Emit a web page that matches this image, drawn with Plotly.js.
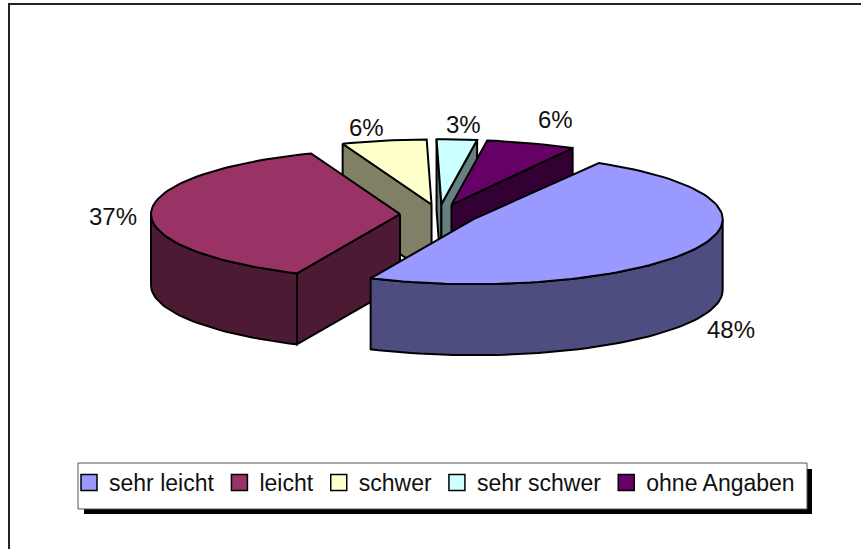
<!DOCTYPE html>
<html>
<head>
<meta charset="utf-8">
<script src="https://cdn.plot.ly/plotly-3.0.1.min.js"></script>
<style>html,body{margin:0;padding:0;background:#fff}#chart{width:861px;height:549px}</style>
</head>
<body>
<div id="chart"></div>
<script>
const categories = ["sehr leicht", "leicht", "schwer", "sehr schwer", "ohne Angaben"];
const shares = [48.4, 37.4, 5.5, 2.6, 5.8];
const topColors = ["#9999FF", "#993366", "#FFFFCC", "#CCFFFF", "#660066"];
const sideColors = ["#4D4D80", "#4D1A33", "#808066", "#668080", "#330033"];
const labelX = [731, 113, 366, 463, 555];
const labelY = [329, 216, 127, 124, 119];

const cx = 439, cy = 214.5, rx = 249, ry = 65, depth = 71, pull = 39, startDeg = -59.8;
const rad = d => d * Math.PI / 180;
const font = "Liberation Sans, Arial, sans-serif";
const traces = [];

function poly(xs, ys, fill) {
  traces.push({
    type: "scatter", mode: "lines", x: xs.concat(xs[0]), y: ys.concat(ys[0]),
    fill: "toself", fillcolor: fill, line: {color: "#000", width: 2, shape: "linear"},
    hoverinfo: "skip", showlegend: false
  });
}

function arc(a, b) {
  const n = Math.max(2, Math.ceil((b - a) / 2));
  const out = [];
  for (let k = 0; k <= n; k++) out.push(a + (b - a) * k / n);
  return out;
}

// slice angles from the shares
let run = startDeg;
const slices = shares.map((s, i) => {
  const t0 = run, t1 = run + s * 3.6;
  run = t1;
  const m = rad((t0 + t1) / 2);
  return {i, t0, t1, depthKey: Math.sin(m), ax: cx + pull * Math.cos(m), ay: cy + pull * (ry / rx) * Math.sin(m)};
});

// painter's order: the slice whose middle is furthest back goes first
slices.slice().sort((p, q) => p.depthKey - q.depthKey).forEach(s => {
  const i = s.i;
  const px = t => s.ax + rx * Math.cos(rad(t));
  const py = t => s.ay + ry * Math.sin(rad(t));
  // radial walls
  [[s.t0, -90], [s.t1, 90]].forEach(([t, off]) => {
    if (Math.sin(rad(t + off)) > 0.001) {
      poly([s.ax, px(t), px(t), s.ax], [s.ay, py(t), py(t) + depth, s.ay + depth], sideColors[i]);
    }
  });
  // outer wall, only the part of the rim that faces the viewer
  for (const base of [-360, 0, 360]) {
    const a = Math.max(s.t0, base), b = Math.min(s.t1, base + 180);
    if (b > a) {
      const ts = arc(a, b);
      poly(ts.map(px).concat(ts.slice().reverse().map(px)),
           ts.map(py).concat(ts.slice().reverse().map(t => py(t) + depth)), sideColors[i]);
    }
  }
  // top face
  const ts = arc(s.t0, s.t1);
  poly([s.ax].concat(ts.map(px)), [s.ay].concat(ts.map(py)), topColors[i]);
});

// legend entries
categories.forEach((c, i) => traces.push({
  type: "scatter", mode: "markers", name: c, x: [null], y: [null],
  marker: {symbol: "square", size: 16, color: topColors[i], line: {color: "#000", width: 1.5}},
  hoverinfo: "skip"
}));

const layout = {
  width: 861, height: 549,
  margin: {l: 0, r: 0, t: 0, b: 0},
  paper_bgcolor: "#fff", plot_bgcolor: "#fff",
  xaxis: {range: [0, 861], visible: false, fixedrange: true},
  yaxis: {range: [549, 0], visible: false, fixedrange: true},
  showlegend: true,
  legend: {
    orientation: "h", x: 69 / 861, y: 1 - 461 / 549, xanchor: "left", yanchor: "top",
    bgcolor: "rgba(0,0,0,0)", borderwidth: 0,
    font: {family: font, size: 23, color: "#111"}, itemwidth: 30, itemclick: false, itemdoubleclick: false
  },
  shapes: [
    {type: "rect", layer: "below", x0: 9, y0: 4, x1: 880, y1: 570, line: {color: "#222", width: 2}, fillcolor: "#fff"},
    {type: "rect", layer: "below", x0: 84, y0: 469, x1: 812, y1: 514, line: {width: 0}, fillcolor: "#000"},
    {type: "rect", layer: "below", x0: 78, y0: 463, x1: 807, y1: 509, line: {color: "#555", width: 1}, fillcolor: "#fff"}
  ],
  annotations: shares.map((v, i) => ({
    x: labelX[i], y: labelY[i], xref: "x", yref: "y",
    text: Math.round(v) + "%", showarrow: false,
    font: {family: font, size: 24, color: "#111"}
  }))
};

Plotly.newPlot("chart", traces, layout, {displayModeBar: false, responsive: false});
</script>
</body>
</html>
